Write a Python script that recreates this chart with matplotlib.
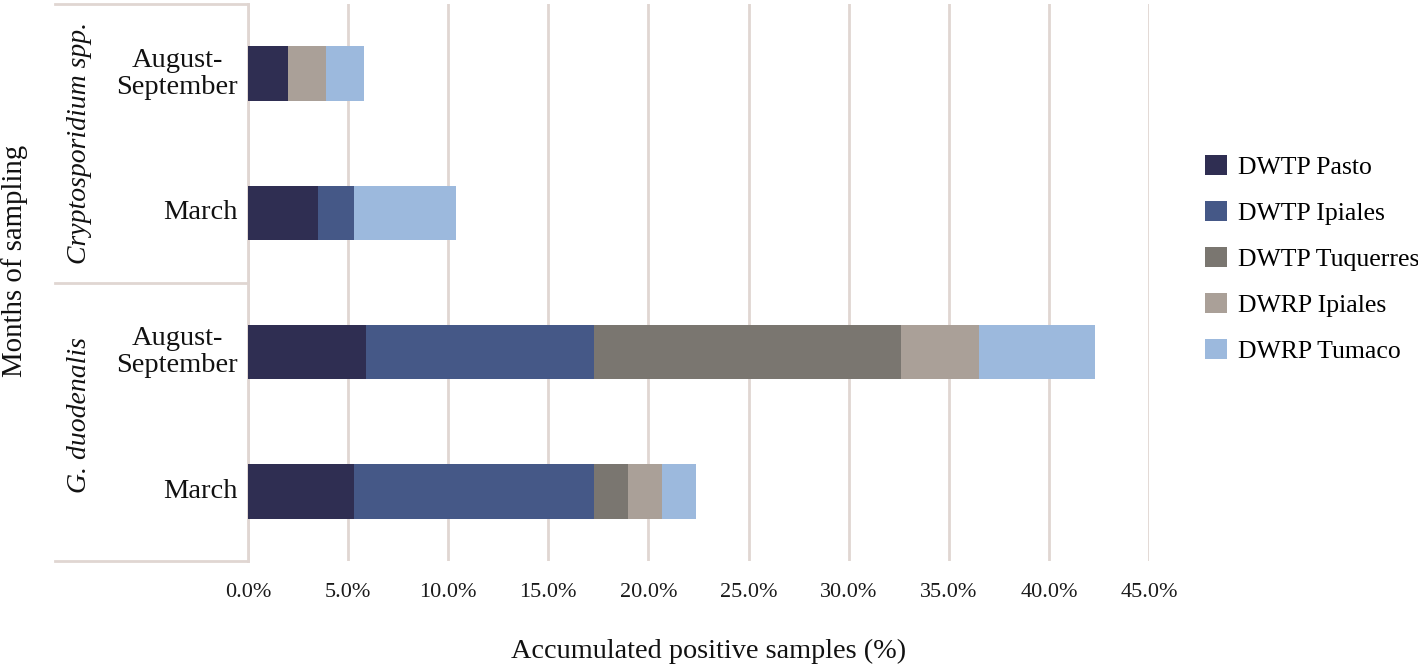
import matplotlib
matplotlib.use("Agg")
import matplotlib.pyplot as plt
import matplotlib.transforms as mtransforms
from matplotlib.patches import Patch

plt.rcParams['font.family'] = ['Liberation Serif', 'DejaVu Serif']

# categories top -> bottom
months = ["August-\nSeptember", "March", "August-\nSeptember", "March"]
groups = ["Cryptosporidium spp.", "G. duodenalis"]

plants = ["DWTP Pasto", "DWTP Ipiales", "DWTP Tuquerres", "DWRP Ipiales", "DWRP Tumaco"]
pasto = [2.0, 3.5, 5.9, 5.3]
ipiales = [0.0, 1.8, 11.4, 12.0]
tuquerres = [0.0, 0.0, 15.3, 1.7]
dwrp_ipiales = [1.9, 0.0, 3.9, 1.7]
tumaco = [1.9, 5.1, 5.8, 1.7]
series = [pasto, ipiales, tuquerres, dwrp_ipiales, tumaco]
colors = ["#2f2e52", "#455887", "#7a7670", "#aaa098", "#9cb9dd"]

xticks = [0, 5, 10, 15, 20, 25, 30, 35, 40, 45]

fig = plt.figure(figsize=(14.18, 6.69), dpi=100)
ax = fig.add_axes([248/1418, 1-561/669, 901/1418, 557/669])

ypos = list(range(len(months)))
left = [0.0] * len(months)
for vals, col, name in zip(series, colors, plants):
    ax.barh(ypos, vals, left=left, height=0.39, color=col, label=name, zorder=3)
    left = [l + v for l, v in zip(left, vals)]

ax.set_ylim(3.5, -0.5)
ax.set_xlim(0, 45)
ax.set_xticks(xticks)
ax.set_xticklabels([f"{t:.1f}%" for t in xticks], fontsize=16, color="#1a1a1a")
ax.tick_params(axis="x", length=0, pad=16)
ax.set_yticks([])
ax.grid(axis="x", color="#e0d6d2", lw=2, zorder=0)
for s in ["top", "right", "bottom"]:
    ax.spines[s].set_visible(False)
ax.spines["left"].set_color("#e0d6d2")
ax.spines["left"].set_linewidth(2)

# category labels
off = mtransforms.offset_copy(ax.get_yaxis_transform(), fig=fig, x=-10, y=0, units="dots")
for y, m in zip(ypos, months):
    ax.text(0, y, m, transform=off, ha="right", va="center", multialignment="center",
            fontsize=20.5, linespacing=1.1, color="#111111")

# group separators and labels
tr = ax.get_yaxis_transform()
x0 = (55 - 248) / 901
for yb in [-0.5, 1.5, 3.5]:
    ax.plot([x0, 0], [yb, yb], transform=tr, color="#e0d6d2", lw=2, clip_on=False)
gx = (79 - 248) / 901
ax.text(gx, 0.5, groups[0], transform=tr, rotation=90, ha="center", va="center",
        fontsize=20, style="italic", color="#111111")
ax.text(gx, 2.45, groups[1], transform=tr, rotation=90, ha="center", va="center",
        fontsize=20, style="italic", color="#111111")

fig.text(15/1418, 1-261/669, "Months of sampling", rotation=90, ha="center", va="center",
         fontsize=20.8, color="#111111")
fig.text(709/1418, 1-651/669, "Accumulated positive samples (%)", ha="center", va="center",
         fontsize=20.3, color="#111111")

handles = [Patch(facecolor=c, label=n) for c, n in zip(colors, plants)]
fig.legend(handles=handles, loc="center left", bbox_to_anchor=(1205/1418, 1-259/669),
           frameon=False, fontsize=18.5, handlelength=0.85, handleheight=0.85,
           labelspacing=0.85, handletextpad=0.45, borderpad=0, borderaxespad=0)

fig.savefig("out.png", dpi=100)
